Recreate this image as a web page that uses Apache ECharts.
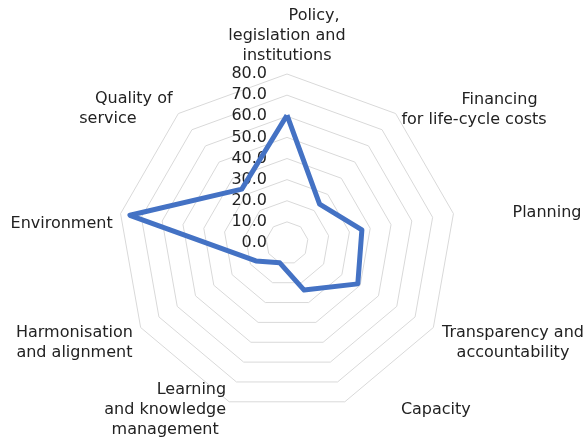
<!DOCTYPE html>
<html lang="en">
<head>
<meta charset="UTF-8">
<title></title>
<style>
    html, body { margin: 0; padding: 0; background: #fff; }
    #chart { width: 587px; height: 437px; }
</style>
</head>
<body>
<div id="chart"></div>
<script src="https://cdn.jsdelivr.net/npm/echarts@6/dist/echarts.min.js"></script>
<script>
    // indicator names (clockwise from the top); each line tagged with a rich style
    var indicatorNames = [
        [['p', 'Policy,'], ['c', 'legislation and'], ['c', 'institutions']],
        [['f', 'Financing'], ['c', 'for life-cycle costs']],
        [['c', 'Planning']],
        [['c', 'Transparency and'], ['c', 'accountability']],
        [['c', 'Capacity']],
        [['r', 'Learning'], ['c', 'and knowledge'], ['c', 'management']],
        [['c', 'Harmonisation'], ['c', 'and alignment']],
        [['c', 'Environment']],
        [['r', 'Quality of'], ['s', 'service']]
    ];
    var scores = [60.5, 24, 36, 38.7, 23.7, 10, 17, 75.5, 33.3];
    var scaleMax = 80;
    var scaleSplits = 8;

    // where each name sits relative to its axis end
    var nameGaps = [8, 9, 60, 10, 9, 9, 9, 8, 9];
    var namePads = [
        [0, 0, 0, 0],
        [6, 0, 0, 0],
        [20, 0, 0, 0],
        [20, 0, 0, 0],
        [0, 0, 0, 53],
        [0, 0, 0, 0],
        [21, 0, 0, 0],
        [23, 0, 0, 0],
        [4, 0, 0, 0]
    ];

    var font = 'DejaVu Sans';
    var textColor = '#222';
    var fontSize = 16;
    function tok(align, padRight) {
        return {
            align: align, fontSize: fontSize, fontFamily: font, color: textColor,
            lineHeight: 20, padding: [0, padRight || 0, 0, 0]
        };
    }

    // echarts radar runs counter-clockwise, so walk the list backwards after the first one
    var order = [0];
    for (var i = indicatorNames.length - 1; i > 0; i--) order.push(i);

    var indicators = order.map(function (i) {
        var ind = {
            name: 'ind' + i,
            max: scaleMax,
            min: 0,
            nameGap: nameGaps[i],
            nameTextStyle: { padding: namePads[i] }
        };
        if (i === 0) {
            ind.axisLabel = {
                show: true,
                fontSize: fontSize,
                fontFamily: font,
                color: textColor,
                margin: 20,
                formatter: function (v) { return Number(v).toFixed(1); }
            };
        }
        return ind;
    });
    var values = order.map(function (i) { return scores[i]; });

    var myChart = echarts.init(document.getElementById('chart'));

    var option = {
        animation: false,
        radar: {
            center: [287, 243],
            radius: 169,
            startAngle: 90,
            shape: 'polygon',
            splitNumber: scaleSplits,
            indicator: indicators,
            axisName: {
                color: textColor,
                fontSize: fontSize,
                fontFamily: font,
                lineHeight: 20,
                formatter: function (value) {
                    var idx = +value.slice(3);
                    return indicatorNames[idx].map(function (l) {
                        return '{' + l[0] + '|' + l[1] + '}';
                    }).join('\n');
                },
                rich: {
                    r: tok('right'),
                    c: tok('center'),
                    l: tok('left'),
                    p: tok('right', 6),
                    f: tok('right', 9),
                    s: tok('right', 36)
                }
            },
            axisLine: { show: false },
            axisTick: { show: false },
            axisLabel: { show: false },
            splitArea: { show: false },
            splitLine: { lineStyle: { color: '#d9d9d9', width: 1 } }
        },
        series: [{
            type: 'radar',
            symbol: 'none',
            lineStyle: { color: '#4472c4', width: 5, join: 'round' },
            itemStyle: { color: '#4472c4' },
            data: [{ value: values }]
        }]
    };

    myChart.setOption(option);
</script>
</body>
</html>
